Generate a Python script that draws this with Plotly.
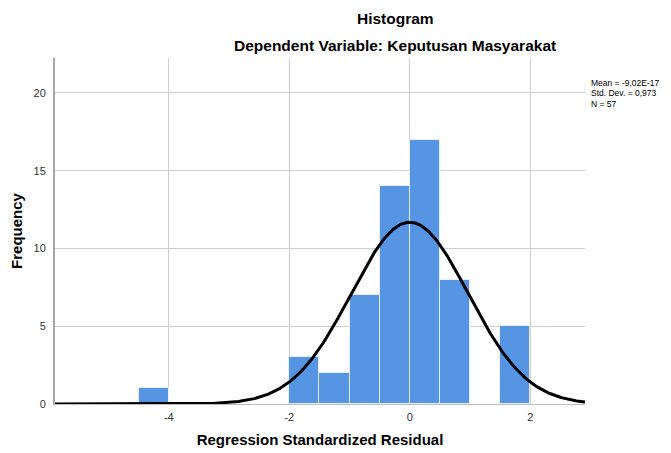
import numpy as np
import plotly.graph_objects as go

bin_left = [-4.5, -2.0, -1.5, -1.0, -0.5, 0.0, 0.5, 1.5]
counts = [1, 3, 2, 7, 14, 17, 8, 5]
bin_width = 0.5
mean = -9.02e-17
std = 0.973
n = 57
x_ticks = [-4, -2, 0, 2]
y_ticks = [0, 5, 10, 15, 20]
stats_lines = ["Mean = -9,02E-17", "Std. Dev. = 0,973", "N = 57"]

centers = [b + bin_width / 2 for b in bin_left]
xs = np.linspace(-5.89, 2.91, 400)
ys = n * bin_width / (std * np.sqrt(2 * np.pi)) * np.exp(-0.5 * ((xs - mean) / std) ** 2)

# page body has an 8px margin; compensate so the plot lands where the reference has it
OFF = 8
W, H = 671 - OFF, 453 - OFF
L, T = 55 - OFF, 58 - OFF
R = W - L - (585 - 55)
B = H - T - (404 - 58)
PW, PH = W - L - R, H - T - B

def px(xp):
    return (xp - OFF - L) / PW

def py(yp):
    return 1 - (yp - OFF - T) / PH

fig = go.Figure()
fig.add_trace(go.Bar(x=centers, y=counts, width=bin_width,
                     marker=dict(color="#5595E3", line=dict(color="#E8EEF8", width=1))))
fig.add_trace(go.Scatter(x=xs, y=ys, mode="lines", line=dict(color="black", width=3)))

fig.update_layout(
    width=W, height=H,
    margin=dict(l=L, r=R, t=T, b=B),
    paper_bgcolor="white", plot_bgcolor="white",
    showlegend=False, bargap=0,
    font=dict(family="Liberation Sans, Arial, sans-serif", color="#222"),
)
fig.update_xaxes(range=[-5.89, 2.91], tickvals=x_ticks, ticktext=[str(t) for t in x_ticks],
                 showgrid=True, gridcolor="#CFCFCF", gridwidth=1, zeroline=False,
                 showline=True, linecolor="#BDBDBD", linewidth=1, automargin=False,
                 tickfont=dict(size=11, color="#333"), ticks="", ticklen=0, ticklabelstandoff=3,
                 title=dict(text="<b>Regression Standardized Residual</b>", font=dict(size=15, color="black"), standoff=12))
fig.update_yaxes(range=[0, 22.25], tickvals=y_ticks,
                 showgrid=True, gridcolor="#CFCFCF", gridwidth=1, zeroline=False,
                 showline=True, linecolor="#A8A8A8", linewidth=2, automargin=False,
                 tickfont=dict(size=11, color="#333"), ticks="", ticklabelstandoff=5,
                 title=dict(text="<b>Frequency</b>", font=dict(size=15, color="black"), standoff=9))

fig.add_annotation(text="<b>Histogram</b>", xref="paper", yref="paper", x=px(395), y=py(18),
                   showarrow=False, font=dict(size=15.5, color="black"), xanchor="center", yanchor="middle")
fig.add_annotation(text="<b>Dependent Variable: Keputusan Masyarakat</b>", xref="paper", yref="paper",
                   x=px(395), y=py(46),
                   showarrow=False, font=dict(size=15.5, color="black"), xanchor="center", yanchor="middle")
for i, line in enumerate(stats_lines):
    fig.add_annotation(text=line, xref="paper", yref="paper", x=px(590), y=py(83 + 10.3 * i),
                       showarrow=False, font=dict(size=8.5, color="black"), xanchor="left", yanchor="middle",
                       borderpad=0)

fig.write_html("out.html")
